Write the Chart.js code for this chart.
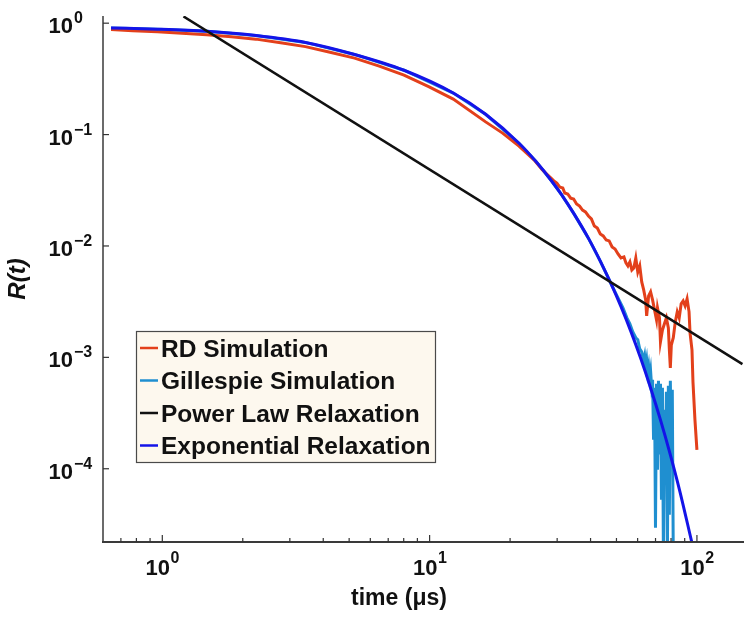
<!DOCTYPE html>
<html>
<head>
<meta charset="utf-8">
<script src="https://cdn.jsdelivr.net/npm/chart.js@4.4.1/dist/chart.umd.min.js"></script>
<style>
  html, body { margin: 0; padding: 0; background: #fff; }
  #wrap { width: 750px; height: 617px; position: relative; }
</style>
</head>
<body>
<div id="wrap"><canvas id="relaxChart"></canvas></div>
<script>
// values (time in microseconds, R(t) dimensionless)
var rdTime = [0.643, 0.775, 0.958, 1.185, 1.466, 1.813, 2.24, 2.772, 3.43, 4.24, 5.24, 6.48, 8.02, 9.92,
  12.26, 16.2, 18.75, 21.6, 24.8, 26.34, 28.7,
  29.17, 29.92, 30.70, 31.49, 32.03, 32.86, 33.71, 34.57, 35.47, 36.39, 37.33, 38.28, 39.28, 40.29,
  41.33, 42.40, 43.50, 44.61, 45.77, 46.95, 48.16, 49.40, 50.68, 51.99, 53.33, 54.25, 55.18, 56.13,
  57.09, 58.07, 59.06, 60.08, 61.11, 62.16, 63.21, 64.30, 64.85, 65.96, 67.09, 68.24, 69.41, 70.60,
  71.20, 72.43, 73.05, 74.30, 75.58, 76.87, 78.19, 78.86, 79.53, 80.21, 81.58, 82.98, 84.40, 85.85,
  87.30, 88.80, 90.32, 91.87, 93.44, 94.24, 95.83, 96.65, 98.31, 100];
var rdValue = [0.878, 0.857, 0.837, 0.813, 0.789, 0.757, 0.719, 0.668, 0.616, 0.549, 0.486, 0.411, 0.342, 0.2695,
  0.208, 0.130, 0.1031, 0.0788, 0.0579, 0.0486, 0.0399,
  0.0383, 0.0367, 0.0338, 0.0331, 0.0299, 0.0293, 0.0269, 0.0264, 0.0238, 0.0228, 0.0210, 0.0202, 0.0186, 0.0175,
  0.0151, 0.0145, 0.0128, 0.0123, 0.0113, 0.0111, 0.00979, 0.00940, 0.00848, 0.00781, 0.00797, 0.00704, 0.00662, 0.00719,
  0.00609, 0.00635, 0.00781, 0.00584, 0.00662, 0.00475, 0.00403, 0.00328, 0.00236, 0.00356, 0.00387, 0.00328, 0.00267, 0.00217,
  0.00278, 0.00226, 0.00138, 0.00176, 0.00200, 0.00226, 0.00184, 0.00117, 0.000805, 0.00129, 0.00150, 0.00208, 0.00256, 0.00226,
  0.00302, 0.00321, 0.00290, 0.00335, 0.00256, 0.00166, 0.00117, 0.000603, 0.000275, 0.000148];

var gilTime = [0.643, 0.958, 1.466, 2.24, 3.43, 5.24, 8.02, 12.26, 16.2, 21.6, 25.0, 28.7, 31.2, 34.6, 39.3, 43.5, 47.7,
  49.40, 51.11, 52.88, 54.70, 56.13, 57.57, 59.06, 60.08, 61.11, 62.16, 63.21, 63.75, 64.30, 64.85, 65.40, 65.96,
  66.52, 67.09, 67.66, 68.24, 68.82, 69.41, 69.98, 70.60, 71.20, 71.80, 72.43, 73.05, 73.67, 74.30, 74.93, 75.58,
  76.22, 76.87, 77.53, 78.19, 78.86, 79.53, 80.21, 80.89, 81.58];
var gilValue = [0.907, 0.884, 0.845, 0.775, 0.672, 0.524, 0.378, 0.236, 0.152, 0.0835, 0.0572, 0.0379, 0.0287, 0.0196, 0.0117, 0.00732, 0.00459,
  0.00387, 0.00328, 0.00278, 0.00226, 0.00200, 0.00169, 0.00150, 0.00144, 0.00119, 0.00112, 0.000930, 0.00103, 0.000839, 0.000950, 0.000741, 0.000839,
  0.000655, 0.000757, 0.000555, 0.000629, 0.000182, 0.000533, 0.0000296, 0.000579, 0.0000979, 0.000615, 0.000134, 0.000579, 0.0000527, 0.000533, 0.0000153, 0.000338,
  0.0000796, 0.000490, 0.0000153, 0.000555, 0.0000387, 0.000615, 0.000134, 0.000512, 0.0000153];

var powTime = [1.2, 148];
var powValue = [1.15, 0.00087];

var expTime = [0.643, 0.958, 1.466, 2.24, 3.43, 5.24, 8.02, 12.26, 16.2, 21.6, 25.0, 28.7, 31.2, 34.6, 39.3, 43.5,
  47.7, 52.0, 56.6, 61.6, 67.1, 73.0, 79.5, 86.5, 94.2, 100];
var expValue = [0.907, 0.884, 0.845, 0.775, 0.672, 0.524, 0.378, 0.236, 0.152, 0.0835, 0.0572, 0.0379, 0.0287, 0.0196, 0.0117, 0.00732,
  0.00459, 0.00285, 0.00171, 0.00098, 0.000531, 0.000276, 0.000134, 0.0000615, 0.0000257, 0.0000138];

var seriesNames = ['RD Simulation', 'Gillespie Simulation', 'Power Law Relaxation', 'Exponential Relaxation'];
var seriesColors = ['#e3401b', '#1f8fd0', '#111111', '#1414e8'];

var xTickValues = [1, 10, 100];
var xTickExponents = ['0', '1', '2'];
var xMinorTicks = [0.7, 0.8, 0.9, 2, 3, 4, 5, 6, 7, 8, 9, 20, 30, 40, 50, 60, 70, 80, 90];
var yTickValues = [1, 0.1, 0.01, 0.001, 0.0001];
var yTickExponents = ['0', '\u22121', '\u22122', '\u22123', '\u22124'];

function pairs(xs, ys) {
  return xs.map(function(x, i) { return { x: x, y: ys[i] }; });
}

var FONT = '"Liberation Sans", Arial, Helvetica, sans-serif';

// matlab-like axes, inward ticks, superscript labels and the boxed legend
var axesPlugin = {
  id: 'matlabAxes',
  afterDatasetsDraw: function(chart) {
    var ctx = chart.ctx;
    var area = chart.chartArea;
    var xs = chart.scales.x;
    var ys = chart.scales.y;
    ctx.save();

    // axis lines
    ctx.lineWidth = 2;
    ctx.strokeStyle = '#6b6b6b';
    ctx.beginPath();
    ctx.moveTo(area.left, area.top);
    ctx.lineTo(area.left, area.bottom);
    ctx.stroke();
    ctx.strokeStyle = '#3a3a3a';
    ctx.beginPath();
    ctx.moveTo(area.left - 1, area.bottom);
    ctx.lineTo(area.right, area.bottom);
    ctx.stroke();

    // ticks (pointing inwards)
    ctx.lineWidth = 1.2;
    ctx.strokeStyle = '#333';
    xTickValues.forEach(function(v) {
      var px = xs.getPixelForValue(v);
      ctx.beginPath(); ctx.moveTo(px, area.bottom); ctx.lineTo(px, area.bottom - 7); ctx.stroke();
    });
    xMinorTicks.forEach(function(v) {
      var px = xs.getPixelForValue(v);
      ctx.beginPath(); ctx.moveTo(px, area.bottom); ctx.lineTo(px, area.bottom - 4); ctx.stroke();
    });
    yTickValues.forEach(function(v) {
      var py = ys.getPixelForValue(v);
      ctx.beginPath(); ctx.moveTo(area.left, py); ctx.lineTo(area.left + 6, py); ctx.stroke();
    });

    // tick labels 10^n
    ctx.fillStyle = '#111';
    ctx.textBaseline = 'alphabetic';
    var baseFont = 'bold 22px ' + FONT;
    var expFont = 'bold 16px ' + FONT;
    xTickValues.forEach(function(v, i) {
      var px = xs.getPixelForValue(v);
      ctx.font = baseFont;
      var w1 = ctx.measureText('10').width;
      ctx.font = expFont;
      var w2 = ctx.measureText(xTickExponents[i]).width;
      var start = px - (w1 + w2) / 2;
      ctx.font = baseFont;
      ctx.textAlign = 'left';
      ctx.fillText('10', start, area.bottom + 33);
      ctx.font = expFont;
      ctx.fillText(xTickExponents[i], start + w1 + 0.5, area.bottom + 21);
    });
    yTickValues.forEach(function(v, i) {
      var py = ys.getPixelForValue(v);
      ctx.font = baseFont;
      ctx.textAlign = 'right';
      ctx.fillText('10', 73, py + 10);
      ctx.font = expFont;
      ctx.textAlign = 'left';
      ctx.fillText(yTickExponents[i], 74, py);
    });

    // axis titles
    ctx.font = 'bold 23px ' + FONT;
    ctx.textAlign = 'center';
    ctx.fillText('time (\u03bcs)', 399, area.bottom + 63);
    ctx.save();
    ctx.translate(25, (area.top + area.bottom) / 2);
    ctx.rotate(-Math.PI / 2);
    ctx.font = 'italic bold 24px ' + FONT;
    ctx.fillText('R(t)', 0, 0);
    ctx.restore();

    // legend box
    var bx = 136, by = 331, bw = 299, bh = 131;
    ctx.fillStyle = '#fdf8ee';
    ctx.fillRect(bx, by, bw, bh);
    ctx.lineWidth = 1.2;
    ctx.strokeStyle = '#4a4a4a';
    ctx.strokeRect(bx + 0.5, by + 0.5, bw, bh);
    ctx.font = 'bold 24.5px ' + FONT;
    ctx.textAlign = 'left';
    seriesNames.forEach(function(name, i) {
      var cy = by + 17 + i * 32.5;
      ctx.strokeStyle = seriesColors[i];
      ctx.lineWidth = 2.5;
      ctx.beginPath(); ctx.moveTo(140, cy); ctx.lineTo(158, cy); ctx.stroke();
      ctx.fillStyle = '#111';
      ctx.fillText(name, 161, cy + 8.5);
    });

    ctx.restore();
  }
};

var ctx = document.getElementById('relaxChart').getContext('2d');
var chart = new Chart(ctx, {
  type: 'scatter',
  data: {
    datasets: [{
      label: seriesNames[0],
      data: pairs(rdTime, rdValue),
      borderColor: seriesColors[0],
      borderWidth: 3,
      order: 2
    }, {
      label: seriesNames[1],
      data: pairs(gilTime, gilValue),
      borderColor: seriesColors[1],
      borderWidth: 3,
      order: 3
    }, {
      label: seriesNames[2],
      data: pairs(powTime, powValue),
      borderColor: seriesColors[2],
      borderWidth: 2.5,
      order: 0
    }, {
      label: seriesNames[3],
      data: pairs(expTime, expValue),
      borderColor: seriesColors[3],
      borderWidth: 3,
      cubicInterpolationMode: 'monotone',
      order: 1
    }]
  },
  options: {
    responsive: true,
    maintainAspectRatio: false,
    animation: false,
    showLine: true,
    elements: {
      point: { radius: 0, hoverRadius: 0 },
      line: { tension: 0, fill: false }
    },
    layout: { padding: { left: 103, right: 6, top: 16, bottom: 75 } },
    scales: {
      x: { type: 'logarithmic', min: 0.643, max: 150, display: false },
      y: { type: 'logarithmic', min: 0.000022, max: 1.16, display: false }
    },
    plugins: {
      legend: { display: false },
      tooltip: { enabled: false }
    }
  },
  plugins: [axesPlugin]
});
</script>
</body>
</html>
